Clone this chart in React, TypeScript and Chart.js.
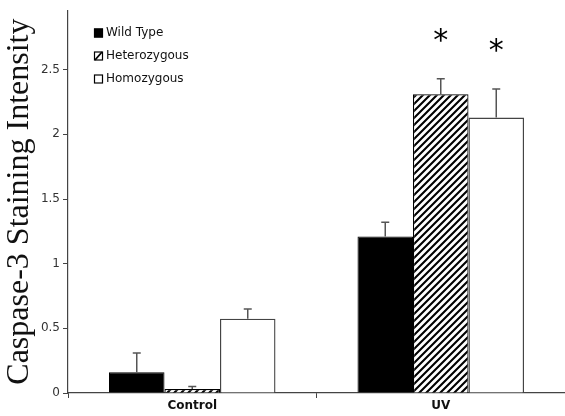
import React, { useEffect, useRef } from "react";
import { Chart, registerables } from "chart.js";

Chart.register(...registerables);

const categories = ["Control", "UV"];
const seriesLabels = ["Wild Type", "Heterozygous", "Homozygous"];
const wildType = [0.16, 1.21];
const wildTypeErr = [0.15, 0.11];
const heterozygous = [0.03, 2.31];
const heterozygousErr = [0.02, 0.12];
const homozygous = [0.575, 2.13];
const homozygousErr = [0.075, 0.22];
const heterozygousSig = ["", "*"];
const homozygousSig = ["", "*"];
const yTicks = [0, 0.5, 1, 1.5, 2, 2.5];
const yTitle = "Caspase-3 Staining Intensity";

function makeHatch(): CanvasPattern | string {
  const c = document.createElement("canvas");
  const s = 7;
  c.width = s;
  c.height = s;
  const g = c.getContext("2d");
  if (!g) return "#777";
  g.fillStyle = "#fff";
  g.fillRect(0, 0, s, s);
  g.strokeStyle = "#000";
  g.lineWidth = 2.1;
  g.beginPath();
  g.moveTo(-1, s + 1);
  g.lineTo(s + 1, -1);
  g.moveTo(-1, 1);
  g.lineTo(1, -1);
  g.moveTo(s - 1, s + 1);
  g.lineTo(s + 1, s - 1);
  g.stroke();
  const p = g.createPattern(c, "repeat");
  return p || "#777";
}

export default function App() {
  const ref = useRef<HTMLCanvasElement | null>(null);

  useEffect(() => {
    document.body.style.margin = "0";
    const canvas = ref.current;
    if (!canvas) return;
    const hatch = makeHatch();
    const errs = [wildTypeErr, heterozygousErr, homozygousErr];
    const sigs = [null, heterozygousSig, homozygousSig];

    const errorBars = {
      id: "errorBars",
      afterDatasetsDraw(chart: any) {
        const ctx = chart.ctx;
        const ys = chart.scales.y;
        ctx.save();
        chart.data.datasets.forEach((ds: any, i: number) => {
          const meta = chart.getDatasetMeta(i);
          meta.data.forEach((bar: any, j: number) => {
            const v = ds.data[j];
            const top = ys.getPixelForValue(v + errs[i][j]);
            ctx.strokeStyle = "#555";
            ctx.lineWidth = 1.5;
            ctx.beginPath();
            ctx.moveTo(bar.x, bar.y);
            ctx.lineTo(bar.x, top);
            ctx.moveTo(bar.x - 4, top);
            ctx.lineTo(bar.x + 4, top);
            ctx.stroke();
            const sg = sigs[i];
            if (sg && sg[j]) {
              ctx.fillStyle = "#000";
              ctx.font = "30px 'DejaVu Sans'";
              ctx.textAlign = "center";
              ctx.textBaseline = "alphabetic";
              const m = ctx.measureText(sg[j]);
              const asc = m.actualBoundingBoxAscent;
              const desc = m.actualBoundingBoxDescent;
              const cy = top - 44;
              ctx.fillText(sg[j], bar.x, cy + (asc - desc) / 2);
            }
          });
        });
        ctx.restore();
      },
    };

    const legendBox = {
      id: "legendBox",
      afterDraw(chart: any) {
        const ctx = chart.ctx;
        ctx.save();
        const x0 = 94;
        const rows = [33, 56, 79];
        chart.data.datasets.forEach((ds: any, i: number) => {
          const cy = rows[i];
          ctx.fillStyle = i === 1 ? "#fff" : ds.backgroundColor;
          ctx.fillRect(x0, cy - 4.5, 9, 9);
          ctx.strokeStyle = "#000";
          ctx.lineWidth = 1.2;
          ctx.strokeRect(x0 + 0.5, cy - 4, 8, 8);
          if (i === 1) {
            ctx.beginPath();
            ctx.lineWidth = 1.8;
            ctx.moveTo(x0 + 1, cy + 4);
            ctx.lineTo(x0 + 8, cy - 4);
            ctx.stroke();
          }
          ctx.fillStyle = "#111";
          ctx.font = "12px 'DejaVu Sans'";
          ctx.textAlign = "left";
          ctx.textBaseline = "middle";
          ctx.fillText(ds.label, x0 + 12, cy);
        });
        ctx.restore();
      },
    };

    const chart = new Chart(canvas, {
      type: "bar",
      data: {
        labels: categories,
        datasets: [
          {
            label: seriesLabels[0],
            data: wildType,
            backgroundColor: "#000",
            borderColor: "#000",
            borderWidth: 1,
          },
          {
            label: seriesLabels[1],
            data: heterozygous,
            backgroundColor: hatch as any,
            borderColor: "#000",
            borderWidth: 1.2,
          },
          {
            label: seriesLabels[2],
            data: homozygous,
            backgroundColor: "#fff",
            borderColor: "#444",
            borderWidth: 1.4,
          },
        ],
      },
      options: {
        animation: false,
        responsive: true,
        maintainAspectRatio: false,
        layout: { padding: { top: 8, right: 0, left: 0, bottom: 0 } },
        datasets: { bar: { categoryPercentage: 0.67, barPercentage: 1 } },
        plugins: {
          legend: { display: false },
          tooltip: { enabled: false },
        },
        scales: {
          x: {
            offset: true,
            grid: {
              offset: true,
              drawOnChartArea: false,
              drawTicks: true,
              tickLength: 5,
              color: "#444",
            },
            border: { display: true, color: "#444", width: 1.2 },
            ticks: {
              color: "#111",
              font: { family: "'DejaVu Sans'", size: 12, weight: "bold" },
              padding: 1,
            },
            afterFit(scale: any) {
              scale.height = 23;
            },
          },
          y: {
            min: 0,
            max: 2.96,
            grid: {
              drawOnChartArea: false,
              drawTicks: true,
              tickLength: 5,
              color: "#444",
            },
            border: { display: true, color: "#444", width: 1.2 },
            ticks: {
              color: "#333",
              font: { family: "'DejaVu Sans'", size: 12 },
              padding: 3,
              callback: (v: any) => String(v),
            },
            afterBuildTicks(scale: any) {
              scale.ticks = yTicks.map((v) => ({ value: v }));
            },
            title: {
              display: true,
              text: yTitle,
              color: "#111",
              font: { family: "'Liberation Serif'", size: 32, lineHeight: 1.2 },
              padding: { top: 0, bottom: 0 },
            },
            afterFit(scale: any) {
              scale.width = 68;
            },
          },
        },
      },
      plugins: [errorBars, legendBox],
    });
    return () => chart.destroy();
  }, []);

  return (
    <div style={{ position: "relative", width: 565, height: 416 }}>
      <canvas ref={ref} />
    </div>
  );
}
